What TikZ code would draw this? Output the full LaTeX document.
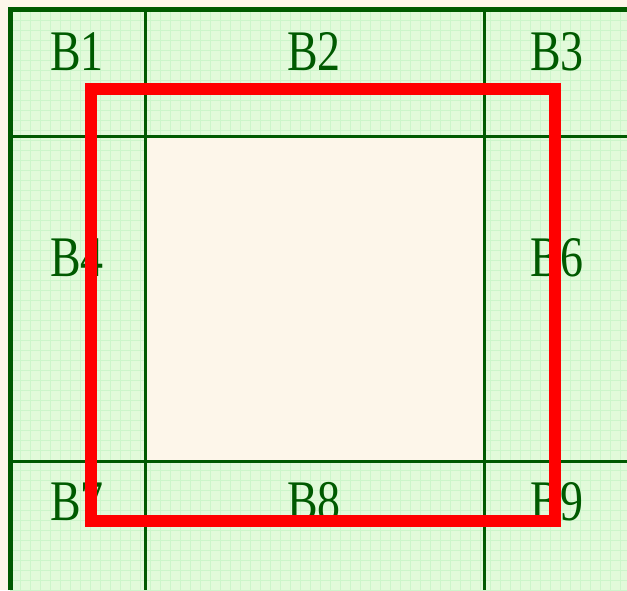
\documentclass[tikz,border=0pt]{standalone}
\usepackage{fontspec}
\setmainfont{Liberation Serif}
\usepackage{tikz}
\definecolor{cream}{HTML}{FDF6EA}
\definecolor{cellgreen}{HTML}{E2FADA}
\definecolor{finegrid}{HTML}{CCF5CA}
\definecolor{darkgreen}{HTML}{005A00}

\begin{document}
\begin{tikzpicture}[x=0.03cm, y=-0.03cm,
    cell/.style={darkgreen, font=\fontsize{49}{52}\selectfont, inner sep=0pt}]
            \useasboundingbox (0,0) rectangle (627,590);
            \fill[cream] (0,0) rectangle (627,590);
            \fill[cellgreen] (10,9) rectangle (627,590);
            \begin{scope}
                \clip (10,9) rectangle (627,590);
                \draw[finegrid, line width=0.5pt, step=0.3cm] (0,0) grid (630,600);
            \end{scope}
            \fill[cream] (146,137) rectangle (484,461);
            \draw[darkgreen, line width=2pt] (145.5,9) -- (145.5,590);
            \draw[darkgreen, line width=2pt] (484.5,9) -- (484.5,590);
            \draw[darkgreen, line width=2pt] (10,136.5) -- (627,136.5);
            \draw[darkgreen, line width=2pt] (10,461.5) -- (627,461.5);
            \draw[darkgreen, line width=4pt] (10.5,590) -- (10.5,9.5) -- (627,9.5);
            \node[cell] (b1) at (77,52) {\scalebox{0.8}[1]{B1}};
            \node[cell] (b2) at (314,52) {\scalebox{0.8}[1]{B2}};
            \node[cell] (b3) at (557,52) {\scalebox{0.8}[1]{B3}};
            \node[cell] (b4) at (77,258) {\scalebox{0.8}[1]{B4}};
            \node[cell] (b6) at (557,258) {\scalebox{0.8}[1]{B6}};
            \node[cell] (b7) at (77,502) {\scalebox{0.8}[1]{B7}};
            \node[cell] (b8) at (314,502) {\scalebox{0.8}[1]{B8}};
            \node[cell] (b9) at (557,502) {\scalebox{0.8}[1]{B9}};
            \draw[red, line width=10pt] (91,89) rectangle (555,521);
        \end{tikzpicture}
\end{document}
